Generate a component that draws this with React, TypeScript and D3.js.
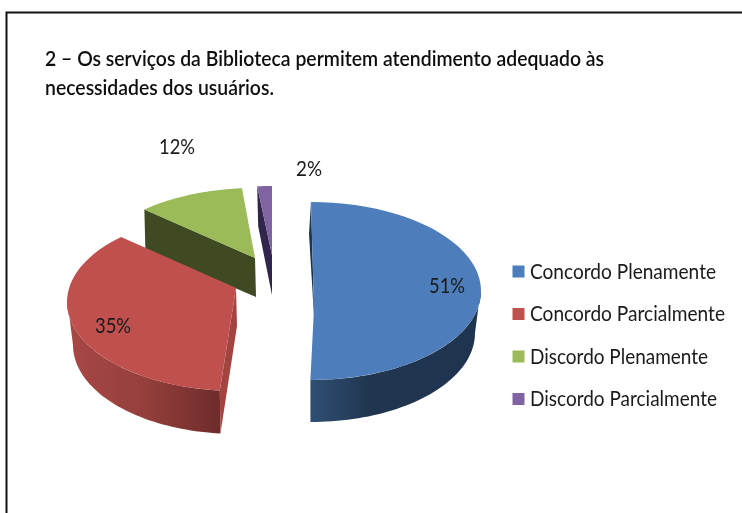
import React from "react";
import * as d3 from "d3";

const categories = ["Concordo Plenamente", "Concordo Parcialmente", "Discordo Plenamente", "Discordo Parcialmente"];
const percents = [51, 35, 12, 2];
const colors = ["#4D7EBB", "#C0504D", "#9BBB59", "#8064A2"];
const titleLines = ["2 – Os serviços da Biblioteca permitem atendimento adequado às", "necessidades dos usuários."];

// Layout of each exploded 3D slice (projection only; the angles come from d3.pie)
const sliceLayout = [
  { cx: 311, cy: 291, apexX: 314, apexY: 308, startNudge: 0, endNudge: -3.4, botCy: 333 },
  { cx: 237, cy: 302, apexX: 236, apexY: 288, startNudge: 2.2, endNudge: 7.4, botCy: 345 },
  { cx: 255, cy: 277, apexX: 255, apexY: 258, startNudge: 9.8, endNudge: 2.8, botCy: 316 },
  { cx: 272, cy: 275, apexX: 272, apexY: 255, startNudge: 2.2, endNudge: 0, botCy: 312 },
];
const labelPos = [
  [447, 286],
  [113, 326],
  [177, 147],
  [309, 169],
];
const RX = 170, RY = 89, BOT_RX = 164;

const rad = (d: number) => (d * Math.PI) / 180;
const lineGen = d3.line();

function rim(cx: number, cy: number, rx: number, a0: number, a1: number): [number, number][] {
  const n = 48;
  return d3.range(n + 1).map((i) => {
    const a = a0 + ((a1 - a0) * i) / n;
    return [cx + rx * Math.sin(a), cy - RY * Math.cos(a)] as [number, number];
  });
}

export default function App() {
  const pie = d3.pie<number>().sort(null)(percents);
  const slices = pie.map((p, i) => {
    const l = sliceLayout[i];
    return { ...l, a0: p.startAngle + rad(l.startNudge), a1: p.endAngle + rad(l.endNudge), color: colors[i] };
  });
  const [blue, red, green, purple] = slices;

  const face = (s: typeof blue) =>
    lineGen([[s.apexX, s.apexY], ...rim(s.cx, s.cy, RX, s.a0, s.a1)])! + "Z";

  const blueOuter =
    lineGen([
      ...rim(blue.cx, blue.cy, RX, rad(88), blue.a1),
      ...rim(blue.cx, blue.botCy, BOT_RX, rad(90), blue.a1).reverse(),
    ])! + "Z";
  const redOuter =
    lineGen([
      ...rim(red.cx, red.cy, RX, red.a0, rad(272)),
      ...rim(red.cx, red.botCy, BOT_RX, red.a0, rad(270)).reverse(),
    ])! + "Z";
  const redEnd = rim(red.cx, red.cy, RX, red.a0, red.a0)[0];
  const redEndBot = rim(red.cx, red.botCy, BOT_RX, red.a0, red.a0)[0];
  const redCut = lineGen([
    [red.apexX, red.apexY],
    [red.apexX + 1, red.apexY + 38],
    redEndBot,
    redEnd,
  ])! + "Z";
  const gL = rim(green.cx, green.cy, RX, green.a0, green.a0)[0];
  const greenCut = lineGen([
    gL,
    [green.apexX, green.apexY],
    [green.apexX + 1, green.botCy - 19],
    [gL[0] + 1, gL[1] + 40],
  ])! + "Z";
  const pL = rim(purple.cx, purple.cy, RX, purple.a0, purple.a0)[0];
  const purpleCut = lineGen([
    pL,
    [purple.apexX, purple.apexY],
    [purple.apexX, purple.apexY + 40],
    [pL[0] + 1, pL[1] + 40],
  ])! + "Z";
  const bT = rim(blue.cx, blue.cy, RX, blue.a0, blue.a0)[0];
  const blueCut = lineGen([
    bT,
    [bT[0] - 2, bT[1] + 32],
    [blue.apexX, blue.apexY + 8],
    [blue.apexX, blue.apexY],
  ])! + "Z";

  const font = "Lato, Carlito, sans-serif";
  const legendY = d3.scalePoint<string>().domain(categories).range([271.5, 399]);

  return (
    <svg
      width={742}
      height={513}
      style={{ position: "absolute", left: 0, top: 0, background: "#fff" }}
      fontFamily={font}
    >
      <defs>
        <linearGradient id="gBlue" x1="0" x2="1" y1="0" y2="0">
          <stop offset="0" stopColor="#2F4F74" />
          <stop offset="0.35" stopColor="#20364F" />
          <stop offset="1" stopColor="#1F344F" />
        </linearGradient>
        <linearGradient id="gRed" x1="0" x2="1" y1="0" y2="0">
          <stop offset="0" stopColor="#A84845" />
          <stop offset="0.5" stopColor="#953F3C" />
          <stop offset="1" stopColor="#6E2C2B" />
        </linearGradient>
        <filter id="soft" x="-5%" y="-20%" width="110%" height="140%">
          <feGaussianBlur stdDeviation="0.45" />
        </filter>
      </defs>

      <path d="M742,12.5H6.5V513" fill="none" stroke="#111" strokeWidth={2} />

      <g filter="url(#soft)">
        {titleLines.map((t, i) => (
          <text
            key={i}
            x={45}
            y={66 + i * 29}
            fontSize={21}
            fontWeight={600}
            fill="#111"
            textLength={i === 0 ? 559 : 229}
            lengthAdjust="spacingAndGlyphs"
          >
            {t}
          </text>
        ))}
      </g>

      <path d={purpleCut} fill="#30254A" />
      <path d={face(purple)} fill={purple.color} />

      <path d={greenCut} fill="#3F4A22" />
      <path d={face(green)} fill={green.color} />

      <path d={redOuter} fill="url(#gRed)" />
      <path d={redCut} fill="#A34441" />
      <path d={face(red)} fill={red.color} />

      <path d={blueOuter} fill="url(#gBlue)" />
      <path d={blueCut} fill="#1F344F" />
      <path d={face(blue)} fill={blue.color} />

      <g filter="url(#soft)">
        {percents.map((p, i) => (
          <text
            key={i}
            x={labelPos[i][0]}
            y={labelPos[i][1]}
            dy="0.35em"
            textAnchor="middle"
            fontSize={20.5}
            fill="#1a1a1a"
            textLength={p < 10 ? 26 : 36}
            lengthAdjust="spacingAndGlyphs"
          >
            {`${p}%`}
          </text>
        ))}
      </g>

      {categories.map((c, i) => {
        const y = legendY(c)!;
        return (
          <g key={c}>
            <rect x={512.5} y={y - 6} width={12} height={12} fill={colors[i]} />
            <text
              x={530}
              y={y}
              dy="0.35em"
              fontSize={20.5}
              fill="#1a1a1a"
              filter="url(#soft)"
              textLength={[186, 195, 178, 187][i]}
              lengthAdjust="spacingAndGlyphs"
            >
              {c}
            </text>
          </g>
        );
      })}
    </svg>
  );
}
